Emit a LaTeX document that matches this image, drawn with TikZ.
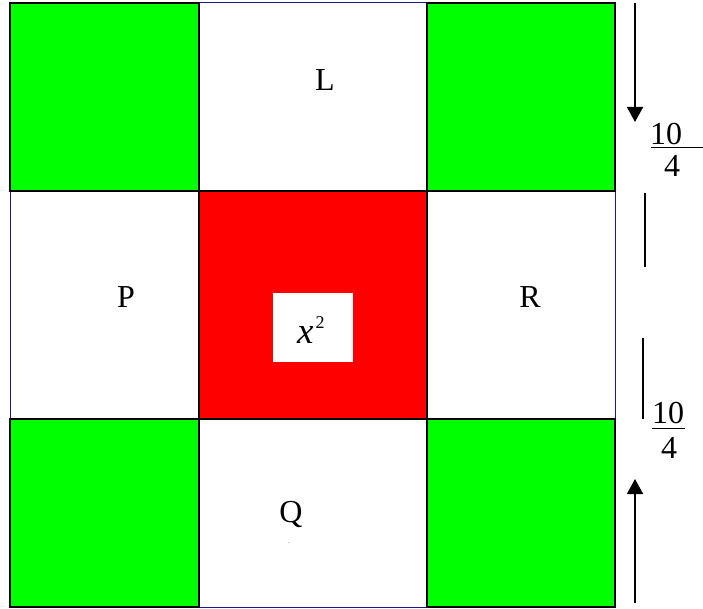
\documentclass[tikz,border=0pt]{standalone}
\usepackage{fontspec}
\setmainfont{Liberation Serif}
\usetikzlibrary{arrows.meta}
\definecolor{cellgreen}{RGB}{0,255,0}
\definecolor{cellred}{RGB}{255,0,0}
\definecolor{edgeblue}{RGB}{25,25,140}
\begin{document}
\begin{tikzpicture}[x=1pt,y=-1pt,
  outerline/.style={draw=edgeblue,line width=1pt},
  greencell/.style={fill=cellgreen,draw=black,line width=1.3pt},
  redcell/.style={fill=cellred,draw=black,line width=1.3pt},
  lbl/.style={font=\fontsize{32}{38}\selectfont,inner sep=0pt,anchor=base},
  dimarrow/.style={line width=1.6pt,-{Triangle[width=16pt,length=15pt]}},
  dimline/.style={line width=1.6pt}]
\useasboundingbox (0,0) rectangle (703,609);
\fill [white] (0,0) rectangle (703,609);
% outer square and cells
\draw [outerline] (10,3) rectangle (615,607);
\draw [greencell] (10,3) rectangle (199,191);
\draw [greencell] (427,3) rectangle (615,191);
\draw [greencell] (10,419) rectangle (199,607);
\draw [greencell] (427,419) rectangle (615,607);
\draw [redcell] (199,191) rectangle (427,419);
\fill [white] (273,293) rectangle (353,362);
% labels
\node [lbl] (lblL) at (325,91) {L};
\node [lbl] (lblP) at (126,307) {P};
\node [lbl] (lblR) at (530,307) {R};
\node [lbl] (lblQ) at (291,522) {Q};
\node [lbl,anchor=base west] (sqx) at (297,343) {\fontsize{37}{40}\selectfont\textit{x}\hspace{2pt}\raisebox{15pt}{\fontsize{18}{18}\selectfont 2}};
\node [inner sep=0pt,text=gray] (qmark) at (289,544) {\fontsize{6}{6}\selectfont -};
% measures on the right
\coordinate (topstart) at (635,3);
\coordinate (toptip) at (635,122);
\draw [dimarrow] (topstart) -- (toptip);
\node [lbl] (topnum) at (666,145) {10};
\node [lbl] (topden) at (672,177) {4};
\coordinate (topbarl) at (651,148);
\coordinate (topbarr) at (703,148);
\draw [line width=1pt] (topbarl) -- (topbarr);
\coordinate (midatop) at (645,193);
\coordinate (midabot) at (645,267);
\draw [dimline] (midatop) -- (midabot);
\coordinate (midbtop) at (643,338);
\coordinate (midbbot) at (643,419);
\draw [dimline] (midbtop) -- (midbbot);
\node [lbl] (botnum) at (668,423) {10};
\node [lbl] (botden) at (669,458) {4};
\coordinate (botbarl) at (652,428);
\coordinate (botbarr) at (685,428);
\draw [line width=1pt] (botbarl) -- (botbarr);
\coordinate (botstart) at (635,603);
\coordinate (bottip) at (635,479);
\draw [dimarrow] (botstart) -- (bottip);
\end{tikzpicture}
\end{document}
